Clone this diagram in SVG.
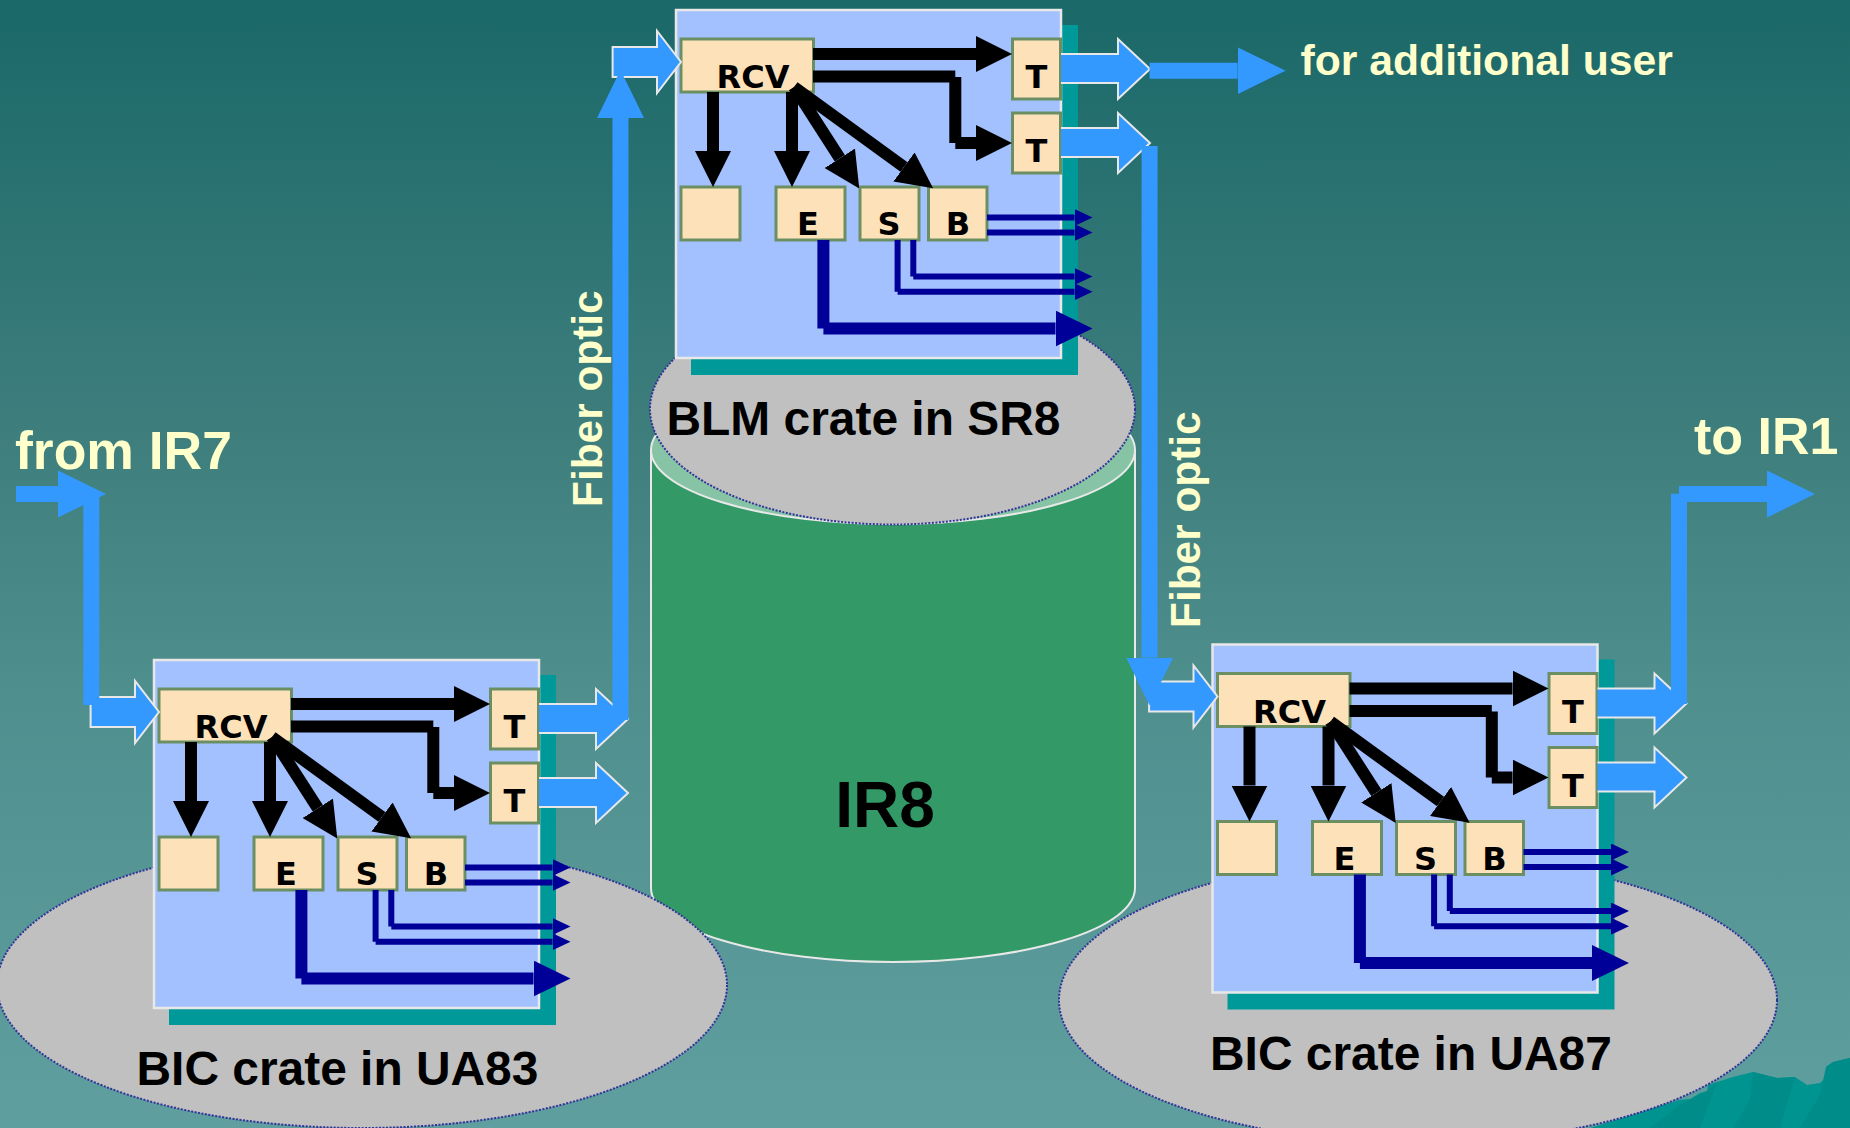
<svg xmlns="http://www.w3.org/2000/svg" width="1850" height="1128" viewBox="0 0 1850 1128">
<style>
.shadow{fill:#009999}
.panel{fill:#a3c1ff;stroke:#e8e8e8;stroke-width:2.5}
.box rect{fill:#fde2b9;stroke:#6b8f63;stroke-width:3}
.box text{font:bold 32px "DejaVu Sans",Verdana,sans-serif;fill:#000;text-anchor:middle}
.oval{fill:#c0c0c0;stroke:#333399;stroke-width:2;stroke-dasharray:2 1.5}
.label{font:bold 47.9px "Liberation Sans",Arial,sans-serif;fill:#000}
.cream{font-family:"Liberation Sans",Arial,sans-serif;font-weight:bold;fill:#ffffcc}
.k{fill:none;stroke:#000;stroke-width:12;marker-end:url(#hk)}
.n1{fill:none;stroke:#000099;stroke-width:6;marker-end:url(#hn)}
.n2{fill:none;stroke:#000099;stroke-width:12;marker-end:url(#hN)}
.hollow{fill:#3399ff;stroke:#e8e8e8;stroke-width:2}
.fiber{fill:none;stroke:#3399ff;stroke-width:16;marker-end:url(#hf)}
.fiberplain{fill:none;stroke:#3399ff;stroke-width:16}
</style>
<defs>
<linearGradient id="bg" x1="0" y1="0" x2="0" y2="1"><stop offset="0" stop-color="#1a6868"/><stop offset="0.36" stop-color="#3c7d7c"/><stop offset="0.62" stop-color="#4f8f8e"/><stop offset="1" stop-color="#5f9f9f"/></linearGradient>
<marker id="hk" markerUnits="userSpaceOnUse" markerWidth="36" markerHeight="36" refX="0" refY="18" orient="auto"><path d="M0 0L36 18L0 36z" fill="#000"/></marker>
<marker id="hn" markerUnits="userSpaceOnUse" markerWidth="18" markerHeight="17" refX="0" refY="8.5" orient="auto"><path d="M0 0L18 8.5L0 17z" fill="#000099"/></marker>
<marker id="hN" markerUnits="userSpaceOnUse" markerWidth="37" markerHeight="36" refX="0" refY="18" orient="auto"><path d="M0 0L37 18L0 36z" fill="#000099"/></marker>
<marker id="hf" markerUnits="userSpaceOnUse" markerWidth="48" markerHeight="47" refX="0" refY="23.5" orient="auto"><path d="M0 0L48 23.5L0 47z" fill="#3399ff"/></marker>
</defs>
<rect width="1850" height="1128" fill="url(#bg)"/>
<g id="mountains">
<path d="M1590 1128L1679 1100L1690 1099L1700 1093L1707 1091L1708 1085L1717 1082L1733 1077L1753 1072L1777 1078L1795 1077L1807 1085L1820 1083L1826 1077V1067L1833 1062L1850 1058V1128Z" fill="#009490"/>
<path d="M1753 1072L1777 1078L1795 1077L1780 1128H1733L1750 1100ZM1826 1067L1833 1062L1850 1058V1128H1800L1820 1095ZM1707 1091L1717 1082L1700 1128H1650L1680 1105Z" fill="#008c88"/>
</g>
<g id="ir8">
<path d="M651 450V888A242 74 0 0 0 1135 888V450Z" fill="#339966" stroke="#e8e8e8" stroke-width="2"/>
<ellipse cx="893" cy="450" rx="242" ry="74" fill="#86c4a5" stroke="#e8e8e8" stroke-width="2"/>
<text x="885" y="827" style="font:bold 64px 'Liberation Sans',Arial,sans-serif;text-anchor:middle" fill="#000">IR8</text>
</g>
<g id="oval-sr8"><ellipse class="oval" cx="892.5" cy="409" rx="242.5" ry="115.5"/><text class="label" x="666.500" y="435">BLM crate in SR8</text></g>
<g id="oval-ua83"><ellipse class="oval" cx="362" cy="985" rx="365" ry="143"/><text class="label" x="136.500" y="1085">BIC crate in UA83</text></g>
<g id="oval-ua87"><ellipse class="oval" cx="1418" cy="1000" rx="359" ry="143"/><text class="label" x="1210" y="1070">BIC crate in UA87</text></g>

<g id="crate-sr8" transform="translate(0 0)">
<path class="shadow" d="M1061 25H1078V375H691V358H1061Z"/>
<rect class="panel" x="676" y="10" width="385" height="348"/>
<g id="sr8-rcv" class="box"><rect x="681" y="39" width="132.500" height="53"/><text x="753" y="88">RCV</text></g>
<g id="sr8-t1" class="box"><rect x="1012.500" y="39" width="48" height="60"/><text x="1036.500" y="88">T</text></g>
<g id="sr8-t2" class="box"><rect x="1012.500" y="113" width="48" height="60"/><text x="1036.500" y="162">T</text></g>
<g id="sr8-blank" class="box"><rect x="681" y="187" width="59" height="53"/></g>
<g id="sr8-e" class="box"><rect x="776" y="187" width="69" height="53"/><text x="808" y="235">E</text></g>
<g id="sr8-s" class="box"><rect x="860" y="187" width="59" height="53"/><text x="889" y="235">S</text></g>
<g id="sr8-b" class="box"><rect x="928.500" y="187" width="58.500" height="53"/><text x="958" y="235">B</text></g>
</g>
<g id="crate-ua83" transform="translate(-522 650)">
<path class="shadow" d="M1061 25H1078V375H691V358H1061Z"/>
<rect class="panel" x="676" y="10" width="385" height="348"/>
<g id="ua83-rcv" class="box"><rect x="681" y="39" width="132.500" height="53"/><text x="753" y="88">RCV</text></g>
<g id="ua83-t1" class="box"><rect x="1012.500" y="39" width="48" height="60"/><text x="1036.500" y="88">T</text></g>
<g id="ua83-t2" class="box"><rect x="1012.500" y="113" width="48" height="60"/><text x="1036.500" y="162">T</text></g>
<g id="ua83-blank" class="box"><rect x="681" y="187" width="59" height="53"/></g>
<g id="ua83-e" class="box"><rect x="776" y="187" width="69" height="53"/><text x="808" y="235">E</text></g>
<g id="ua83-s" class="box"><rect x="860" y="187" width="59" height="53"/><text x="889" y="235">S</text></g>
<g id="ua83-b" class="box"><rect x="928.500" y="187" width="58.500" height="53"/><text x="958" y="235">B</text></g>
</g>
<g id="crate-ua87" transform="translate(536.500 634.500)">
<path class="shadow" d="M1061 25H1078V375H691V358H1061Z"/>
<rect class="panel" x="676" y="10" width="385" height="348"/>
<g id="ua87-rcv" class="box"><rect x="681" y="39" width="132.500" height="53"/><text x="753" y="88">RCV</text></g>
<g id="ua87-t1" class="box"><rect x="1012.500" y="39" width="48" height="60"/><text x="1036.500" y="88">T</text></g>
<g id="ua87-t2" class="box"><rect x="1012.500" y="113" width="48" height="60"/><text x="1036.500" y="162">T</text></g>
<g id="ua87-blank" class="box"><rect x="681" y="187" width="59" height="53"/></g>
<g id="ua87-e" class="box"><rect x="776" y="187" width="69" height="53"/><text x="808" y="235">E</text></g>
<g id="ua87-s" class="box"><rect x="860" y="187" width="59" height="53"/><text x="889" y="235">S</text></g>
<g id="ua87-b" class="box"><rect x="928.500" y="187" width="58.500" height="53"/><text x="958" y="235">B</text></g>
</g>

<g id="connectors">
<g transform="translate(0 0)">
<path class="k" d="M813 54H976"/>
<path class="k" d="M813 76.500H955.300M955.300 77V143M955.300 143H976"/>
<path class="k" d="M713 92V151"/>
<path class="k" d="M792 92V151"/>
<path class="k" d="M794 87L839.800 158.300"/>
<path class="k" d="M794 87L904 167"/>
<path class="n1" d="M987 217.500H1074.500"/>
<path class="n1" d="M987 232.500H1074.500"/>
<path class="n1" d="M913.300 240V276.500M913.300 276.500H1074.500"/>
<path class="n1" d="M897.600 240V291.700M897.600 291.700H1074.500"/>
<path class="n2" d="M823.400 240V328.500M823.400 328.500H1055.500"/>
<path class="hollow" d="M612.600 47H657V31L681 62L657 93V77H612.600Z"/>
<path class="hollow" d="M1061 54H1118V39L1150 69L1118 99V83H1061"/>
<path class="hollow" d="M1061 128H1118V113L1150 143L1118 173V157H1061"/>
</g>
<g transform="translate(-522 650)">
<path class="k" d="M813 54H976"/>
<path class="k" d="M813 76.500H955.300M955.300 77V143M955.300 143H976"/>
<path class="k" d="M713 92V151"/>
<path class="k" d="M792 92V151"/>
<path class="k" d="M794 87L839.800 158.300"/>
<path class="k" d="M794 87L904 167"/>
<path class="n1" d="M987 217.500H1074.500"/>
<path class="n1" d="M987 232.500H1074.500"/>
<path class="n1" d="M913.300 240V276.500M913.300 276.500H1074.500"/>
<path class="n1" d="M897.600 240V291.700M897.600 291.700H1074.500"/>
<path class="n2" d="M823.400 240V328.500M823.400 328.500H1055.500"/>
<path class="hollow" d="M612.600 47H657V31L681 62L657 93V77H612.600Z"/>
<path class="hollow" d="M1061 54H1118V39L1150 69L1118 99V83H1061"/>
<path class="hollow" d="M1061 128H1118V113L1150 143L1118 173V157H1061"/>
</g>
<g transform="translate(536.500 634.500)">
<path class="k" d="M813 54H976"/>
<path class="k" d="M813 76.500H955.300M955.300 77V143M955.300 143H976"/>
<path class="k" d="M713 92V151"/>
<path class="k" d="M792 92V151"/>
<path class="k" d="M794 87L839.800 158.300"/>
<path class="k" d="M794 87L904 167"/>
<path class="n1" d="M987 217.500H1074.500"/>
<path class="n1" d="M987 232.500H1074.500"/>
<path class="n1" d="M913.300 240V276.500M913.300 276.500H1074.500"/>
<path class="n1" d="M897.600 240V291.700M897.600 291.700H1074.500"/>
<path class="n2" d="M823.400 240V328.500M823.400 328.500H1055.500"/>
<path class="hollow" d="M612.600 47H657V31L681 62L657 93V77H612.600Z"/>
<path class="hollow" d="M1061 54H1118V39L1150 69L1118 99V83H1061"/>
<path class="hollow" d="M1061 128H1118V113L1150 143L1118 173V157H1061"/>
</g>
<path class="fiber" d="M16 494H58"/>
<path class="fiberplain" d="M91.300 494V705"/>
<path class="fiber" d="M620.500 720V118"/>
<path class="fiber" d="M1149.600 146V657.500"/>
<path class="fiber" d="M1149.600 70.700H1237.600"/>
<path class="fiberplain" d="M1679 704V493.700"/>
<path class="fiber" d="M1679 494H1767"/>
</g>
<g id="texts">
<text class="cream" x="15" y="469" font-size="53.500">from IR7</text>
<text class="cream" x="1694" y="454" font-size="52">to IR1</text>
<text class="cream" x="1300.500" y="75" font-size="42.700">for additional user</text>
<text class="cream" transform="translate(601.700 507) rotate(-90)" font-size="42.400">Fiber optic</text>
<text class="cream" transform="translate(1200 628) rotate(-90)" font-size="42.400">Fiber optic</text>
</g>
</svg>
